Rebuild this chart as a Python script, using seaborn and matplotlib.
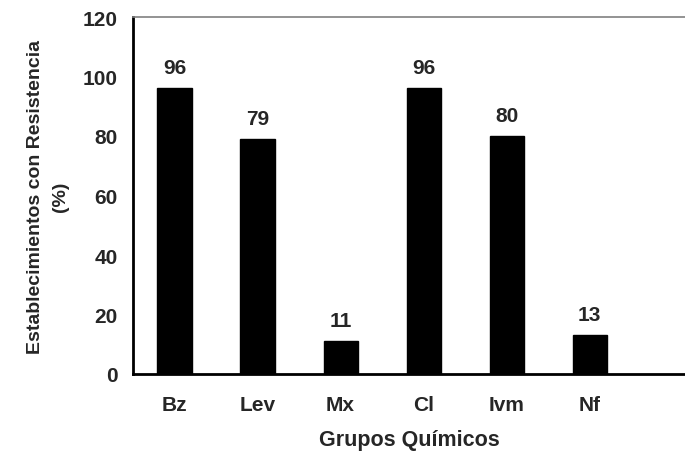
import matplotlib
matplotlib.use("Agg")
import matplotlib.pyplot as plt
import seaborn as sns
import numpy as np

categories = ["Bz", "Lev", "Mx", "Cl", "Ivm", "Nf"]
values = [96, 79, 11, 96, 80, 13]
yticks = [0, 20, 40, 60, 80, 100, 120]

sns.set_style("white")
plt.rcParams['font.family'] = ['Liberation Sans', 'DejaVu Sans']
plt.rcParams['font.weight'] = 'bold'

fig = plt.figure(figsize=(6.85, 4.6), dpi=100)
ax = fig.add_axes([133/685, 85/460, (685-133)/685, (375-18)/460])

sns.barplot(x=categories, y=values, color="black", width=0.41, ax=ax,
            saturation=1, edgecolor="black")

ax.set_ylim(0, 120)
ax.set_xlim(-0.5, 6.15)
ax.set_yticks(yticks)
ax.set_yticklabels([str(t) for t in yticks], fontsize=15, fontweight='bold')
ax.set_xticks(np.arange(-0.5, 5.0, 1.0))
ax.set_xticklabels([])
ax.set_xticks(np.arange(len(categories)), minor=True)
ax.set_xticklabels(categories, minor=True, fontsize=15, fontweight='bold')
ax.tick_params(axis='x', which='major', length=6, width=2, direction='out', color='black')
ax.tick_params(axis='x', which='minor', length=0, pad=15)
ax.tick_params(axis='y', length=6, width=2, direction='out', color='black', pad=5)

for s in ['left', 'bottom']:
    ax.spines[s].set_color('black')
    ax.spines[s].set_linewidth(2)
ax.spines['right'].set_visible(False)
ax.spines['top'].set_color('#808080')
ax.spines['top'].set_linewidth(1.2)

for c in ax.containers:
    ax.bar_label(c, labels=[str(v) for v in values], padding=8,
                 fontsize=15, fontweight='bold')

ax.set_xlabel("Grupos Químicos", fontsize=15.5, fontweight='bold', labelpad=11)
ax.set_ylabel("Establecimientos con Resistencia\n(%)", fontsize=14,
              fontweight='bold', labelpad=10, linespacing=1.6)

fig.savefig("out.png", dpi=100)
